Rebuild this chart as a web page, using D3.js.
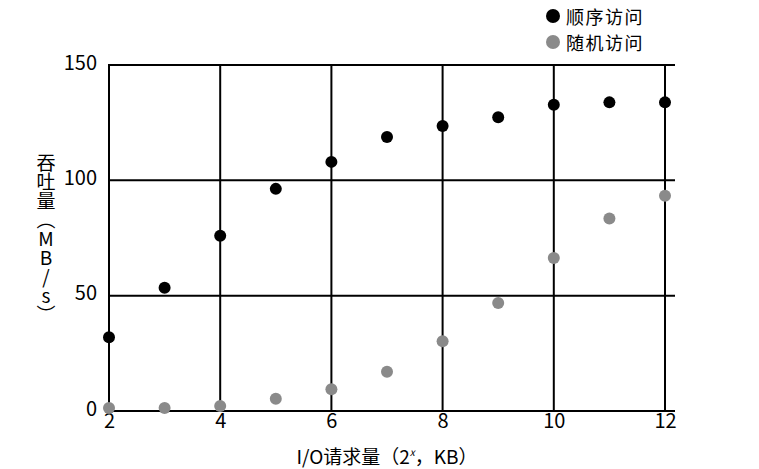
<!DOCTYPE html>
<html>
<head>
<meta charset="utf-8">
<script src="https://cdn.jsdelivr.net/npm/d3@7"></script>
<style>
  body { margin: 0; background: #fff; }
  text { font-family: "Noto Sans CJK SC", "Noto Sans", sans-serif; fill: #000; }
</style>
</head>
<body>
<div id="chart"></div>
<script>
// data
const sizes = [2, 3, 4, 5, 6, 7, 8, 9, 10, 11, 12];
const seqValues = [32, 53.4, 76, 96.3, 108, 118.8, 123.6, 127.3, 132.8, 133.8, 133.8];
const randValues = [1.3, 1.3, 2.2, 5.3, 9.4, 17, 30.2, 46.8, 66.3, 83.5, 93.3];
const xTicks = [2, 4, 6, 8, 10, 12];
const yTicks = [0, 50, 100, 150];
const seriesNames = ['顺序访问', '随机访问'];
const seriesColors = ['#000', '#8a8a8a'];

const w = 759, h = 469;
const pad_left = 109, pad_right = 665, pad_top = 65, pad_bottom = 411;

const svg = d3.select('#chart').append('svg')
  .attr('width', w).attr('height', h);

const xScale = d3.scaleLinear().domain([2, 12]).range([pad_left, pad_right]);
const yScale = d3.scaleLinear().domain([0, 150]).range([pad_bottom, pad_top]);

//grid
svg.append('g').selectAll('line')
  .data(yTicks).enter().append('line')
  .attr('x1', xScale(2) - 1).attr('x2', xScale(12) + 10)
  .attr('y1', d => yScale(d)).attr('y2', d => yScale(d))
  .attr('stroke', '#000').attr('stroke-width', 2);

svg.append('g').selectAll('line')
  .data(xTicks).enter().append('line')
  .attr('x1', d => xScale(d)).attr('x2', d => xScale(d))
  .attr('y1', yScale(150) - 1).attr('y2', yScale(0) + 1)
  .attr('stroke', '#000').attr('stroke-width', 2);

//axes (labels only, lines come from the grid)
const xAxis = d3.axisBottom(xScale).tickValues(xTicks).tickSize(0).tickPadding(3);
const gx = svg.append('g').attr('transform', 'translate(0,' + pad_bottom + ')').call(xAxis);
gx.select('.domain').remove();
gx.selectAll('text').attr('font-size', 20).attr('fill', '#000')
  .style('font-family', '"Noto Sans CJK SC", sans-serif');

const yAxis = d3.axisLeft(yScale).tickValues(yTicks).tickSize(0).tickPadding(12);
const gy = svg.append('g').attr('transform', 'translate(' + pad_left + ',0)').call(yAxis);
gy.select('.domain').remove();
gy.selectAll('text').attr('font-size', 20).attr('fill', '#000').attr('dy', '0.2em')
  .style('font-family', '"Noto Sans CJK SC", sans-serif');

//points
const series = [seqValues, randValues];
series.forEach((vals, s) => {
  svg.append('g').selectAll('circle')
    .data(vals).enter().append('circle')
    .attr('cx', (d, i) => xScale(sizes[i]))
    .attr('cy', d => yScale(d))
    .attr('r', 6)
    .attr('fill', seriesColors[s]);
});

//legend
const legend = svg.append('g').attr('transform', 'translate(553,16)');
seriesNames.forEach((name, i) => {
  legend.append('circle').attr('cx', 0).attr('cy', i * 26).attr('r', 7)
    .attr('fill', seriesColors[i]);
  legend.append('text').attr('x', 13).attr('y', i * 26)
    .attr('dominant-baseline', 'central').attr('font-size', 18)
    .attr('letter-spacing', 1.5).text(name);
});

//x-label
const xl = svg.append('text')
  .attr('x', 387).attr('y', 464)
  .attr('text-anchor', 'middle').attr('font-size', 19);
xl.append('tspan').text('I/O请求量（2');
xl.append('tspan').attr('font-size', 10).attr('baseline-shift', '80%').attr('font-style', 'italic').text('x');
xl.append('tspan').text('，KB）');

//y-label, vertical text
svg.append('text')
  .attr('x', 46).attr('y', 153)
  .attr('font-size', 19)
  .style('writing-mode', 'vertical-rl')
  .style('text-orientation', 'upright')
  .text('吞吐量（MB/s）');
</script>
</body>
</html>
